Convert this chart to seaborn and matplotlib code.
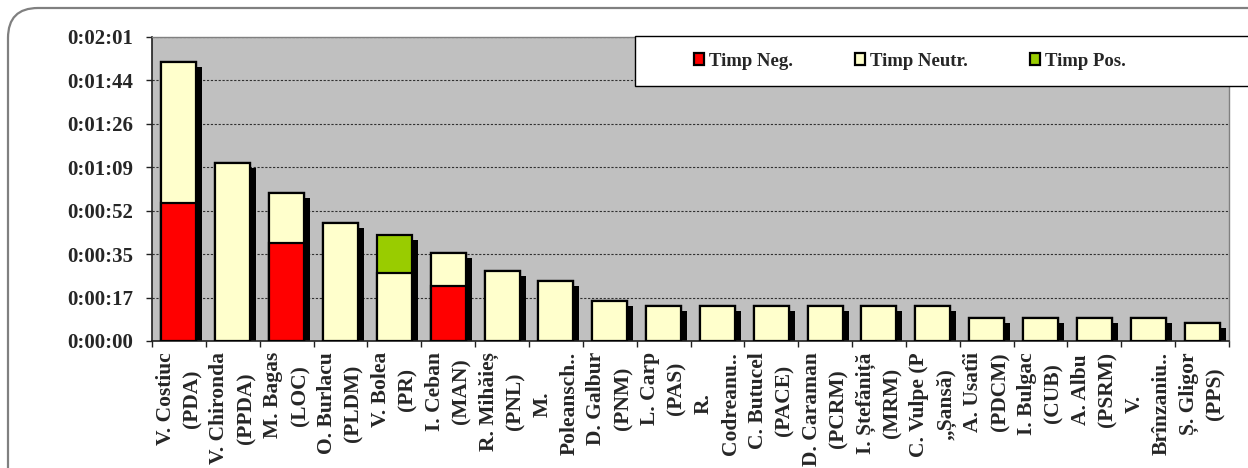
"""
Timp Neg. / Neutr. / Pos. per candidate - stacked bars with drop shadow.
"""

import numpy as np
import pandas as pd
import matplotlib
matplotlib.use("Agg")
import matplotlib.pyplot as plt
import matplotlib.transforms as mtransforms
from matplotlib.patches import Patch, FancyBboxPatch, Rectangle
import seaborn as sns

# data (seconds)
candidates = [
    "V. Costiuc\n(PDA)", "V. Chironda\n(PPDA)", "M. Bagas\n(LOC)", "O. Burlacu\n(PLDM)",
    "V. Bolea\n(PR)", "I. Ceban\n(MAN)", "R. Mihăieș\n(PNL)", "M.\nPoleansch..",
    "D. Galbur\n(PNM)", "L. Carp\n(PAS)", "R.\nCodreanu..", "C. Butucel\n(PACE)",
    "D. Caraman\n(PCRM)", "I. Ștefăniță\n(MRM)", "C. Vulpe (P\n„Șansă)", "A. Usatîi\n(PDCM)",
    "I. Bulgac\n(CUB)", "A. Albu\n(PSRM)", "V.\nBrînzaniu..", "Ș. Gligor\n(PPS)",
]
timp_neg = [55, 0, 39, 0, 0, 22, 0, 0, 0, 0, 0, 0, 0, 0, 0, 0, 0, 0, 0, 0]
timp_neutr = [56, 71, 20, 47, 27, 13, 28, 24, 16, 14, 14, 14, 14, 14, 14, 9, 9, 9, 9, 7]
timp_pos = [0, 0, 0, 0, 15, 0, 0, 0, 0, 0, 0, 0, 0, 0, 0, 0, 0, 0, 0, 0]

series_names = ["Timp Neg.", "Timp Neutr.", "Timp Pos."]
series_colors = ["#FF0000", "#FFFFCC", "#99CC00"]

ytick_labels = ["0:00:00", "0:00:17", "0:00:35", "0:00:52",
                "0:01:09", "0:01:26", "0:01:44", "0:02:01"]
ytick_step = 17.28  # 0.0002 days

df = pd.DataFrame({"candidate": candidates, "neg": timp_neg,
                   "neutr": timp_neutr, "pos": timp_pos})
df["cum_neutr"] = df["neg"] + df["neutr"]
df["total"] = df["cum_neutr"] + df["pos"]

sns.set_style("white")
plt.rcParams["font.family"] = ["Liberation Serif", "DejaVu Serif"]
plt.rcParams["font.weight"] = "bold"

W, H = 1248, 468
fig = plt.figure(figsize=(W / 100, H / 100), dpi=100)
ax = fig.add_axes([152 / W, 1 - 341 / H, (1229 - 152) / W, (341 - 37) / H])
ax.set_facecolor("#C0C0C0")

bar_w = 0.65
edge = dict(edgecolor="black", linewidth=1.6)

# shadow first, shifted right/down in pixels
n0 = len(ax.patches)
sns.barplot(data=df, x="candidate", y="total", color="black", width=bar_w,
            linewidth=0, saturation=1, ax=ax, zorder=2)
shadow_tr = mtransforms.offset_copy(ax.transData, fig=fig, x=6, y=-5, units="dots")
for p in ax.patches[n0:]:
    p.set_transform(shadow_tr)

# stacked layers, tallest first
sns.barplot(data=df, x="candidate", y="total", color=series_colors[2], width=bar_w,
            saturation=1, ax=ax, zorder=3, **edge)
sns.barplot(data=df, x="candidate", y="cum_neutr", color=series_colors[1], width=bar_w,
            saturation=1, ax=ax, zorder=4, **edge)
sns.barplot(data=df, x="candidate", y="neg", color=series_colors[0], width=bar_w,
            saturation=1, ax=ax, zorder=5, **edge)
# hide zero-height red bars
for p in ax.patches:
    if p.get_height() == 0:
        p.set_visible(False)

ax.set_xlim(-0.5, len(candidates) - 0.5)
ax.set_ylim(0, ytick_step * (len(ytick_labels) - 1))
ax.set_xlabel("")
ax.set_ylabel("")

ax.set_yticks(np.arange(len(ytick_labels)) * ytick_step)
ax.set_yticklabels(ytick_labels, fontsize=15, fontweight="bold")
ax.tick_params(axis="y", left=True, length=4.5, width=1, color="#202020", pad=9)

ax.set_xticks(range(len(candidates)))
ax.set_xticklabels(candidates, rotation=90, ha="center", va="top",
                   multialignment="center", fontsize=15.5, fontweight="bold",
                   linespacing=1.45)
ax.set_xticks(np.arange(-0.5, len(candidates), 1), minor=True)
ax.tick_params(axis="x", which="major", length=0, pad=8)
ax.tick_params(axis="x", which="minor", bottom=True, length=4.5, width=1, color="#202020")

ax.set_axisbelow(True)
ax.yaxis.grid(True, color="#303030", linestyle=(0, (2, 1.5)), linewidth=0.8)
ax.xaxis.grid(False)

for side in ["top", "right"]:
    ax.spines[side].set_color("#808080")
    ax.spines[side].set_linewidth(1)
for side in ["left", "bottom"]:
    ax.spines[side].set_color("#202020")
    ax.spines[side].set_linewidth(1.2)

# legend box (runs off the right edge)
fig.patches.append(Rectangle((635 / W, 1 - 86 / H), (1300 - 635) / W, 50 / H,
                             transform=fig.transFigure, facecolor="white",
                             edgecolor="black", linewidth=1, zorder=4))
handles = [Patch(facecolor=c, edgecolor="black", linewidth=1.6) for c in series_colors]
fig.legend(handles, series_names, loc="center left",
           bbox_to_anchor=(694 / W, 1 - 61 / H), ncol=3, frameon=False,
           prop=dict(family=["Liberation Serif", "DejaVu Serif"], weight="bold", size=13.5),
           handlelength=0.55, handleheight=0.55, handletextpad=0.25,
           columnspacing=3.3, borderaxespad=0, borderpad=0)

# rounded outer frame
fig.patches.append(FancyBboxPatch((8, -60), 1300, 460 + 60,
                                  boxstyle="round,pad=0,rounding_size=30",
                                  transform=mtransforms.IdentityTransform(),
                                  fill=False, edgecolor="#808080", linewidth=1.6))

plt.savefig("out.png", dpi=100)
plt.close()
